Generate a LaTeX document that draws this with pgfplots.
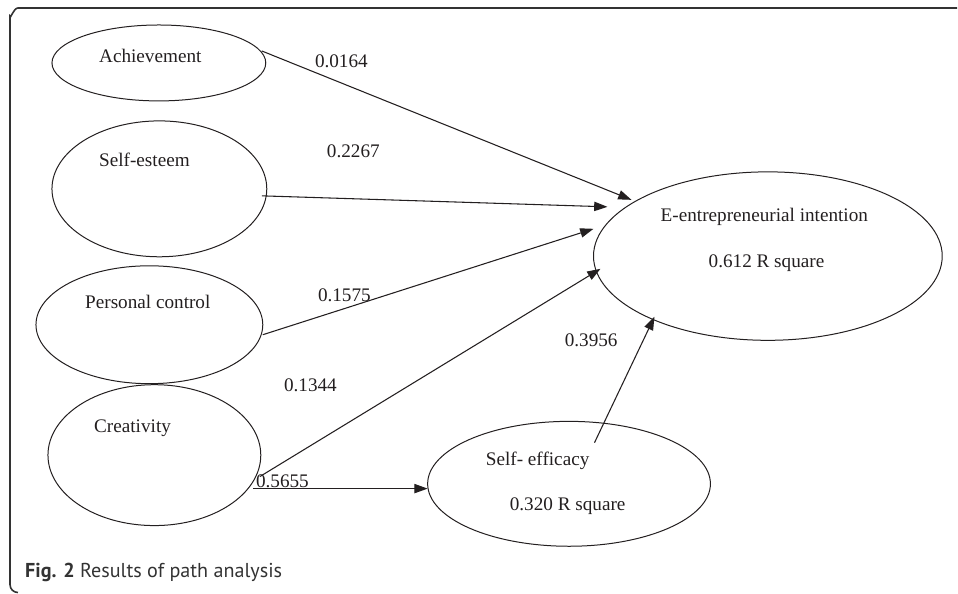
\documentclass[border=0pt]{standalone}
\usepackage{fontspec}
\setmainfont{Liberation Serif}
\newfontfamily\capfont{PT Sans}
\usepackage{pgfplots}
\pgfplotsset{compat=1.18}
\usetikzlibrary{arrows.meta}
\definecolor{ink}{HTML}{231F20}
\definecolor{frame}{HTML}{333333}
\newcommand\lab{\fontsize{14.4pt}{17pt}\selectfont}
\begin{document}
\begin{tikzpicture}
\begin{axis}[width=718.5pt,height=444.75pt,scale only axis,
  xmin=0,xmax=958,ymin=0,ymax=593,y dir=reverse,hide axis,clip=false,
  path/.style={ink,solid,no markers,line width=0.8pt,-{Triangle[length=10pt,width=7pt]}}]
\path (axis cs:0,0) rectangle (axis cs:958,593);
% frame
\draw[frame,line width=1.2pt] (axis cs:958,8) -- (axis cs:18,8) to[out=180,in=-90] (axis cs:10,16) -- (axis cs:10,585) to[out=-90,in=180] (axis cs:18,593);
% ellipses
\draw[ink,line width=0.75pt] (axis cs:159,63) ellipse [x radius=107, y radius=38];
\draw[ink,line width=0.75pt] (axis cs:159.5,189) ellipse [x radius=107.5, y radius=68];
\draw[ink,line width=0.75pt] (axis cs:149.5,325) ellipse [x radius=113.5, y radius=59];
\draw[ink,line width=0.75pt] (axis cs:154.5,455.5) ellipse [x radius=106.5, y radius=70.5];
\draw[ink,line width=0.75pt] (axis cs:569.5,484.2) ellipse [x radius=141.5, y radius=62.5];
\draw[ink,line width=0.75pt] (axis cs:768.5,256.3) ellipse [x radius=174.5, y radius=84.3];
% paths
\addplot[path] coordinates {(262,51) (632,200)};
\addplot[path] coordinates {(262,196) (608,207)};
\addplot[path] coordinates {(263,335) (594,229)};
\addplot[path] coordinates {(260,477) (601,269)};
\addplot[path] coordinates {(253,489) (428,489)};
\addplot[path] coordinates {(595,443) (655,317)};
% texts
\begin{scope}[every node/.style={anchor=base west,inner sep=0pt,text=ink}]
\node at (axis cs:99,63) {\lab Achievement};
\node at (axis cs:99,167) {\lab Self-esteem};
\node at (axis cs:85,309) {\lab Personal control};
\node at (axis cs:94,433) {\lab Creativity};
\node at (axis cs:486,466) {\lab Self- efficacy};
\node at (axis cs:510,511) {\lab 0.320 R square};
\node at (axis cs:661,222) {\lab E-entrepreneurial intention};
\node at (axis cs:709,268) {\lab 0.612 R square};
\node at (axis cs:315,68) {\lab 0.0164};
\node at (axis cs:327,158) {\lab 0.2267};
\node at (axis cs:318,302) {\lab 0.1575};
\node at (axis cs:284,392) {\lab 0.1344};
\node at (axis cs:256,488) {\lab 0.5655};
\node at (axis cs:565,347) {\lab 0.3956};
\node[text=frame] at (axis cs:25,578) {\capfont\fontsize{15.1pt}{18pt}\selectfont\textbf{Fig. 2} Results of path analysis};
\end{scope}
\end{axis}
\end{tikzpicture}
\end{document}
